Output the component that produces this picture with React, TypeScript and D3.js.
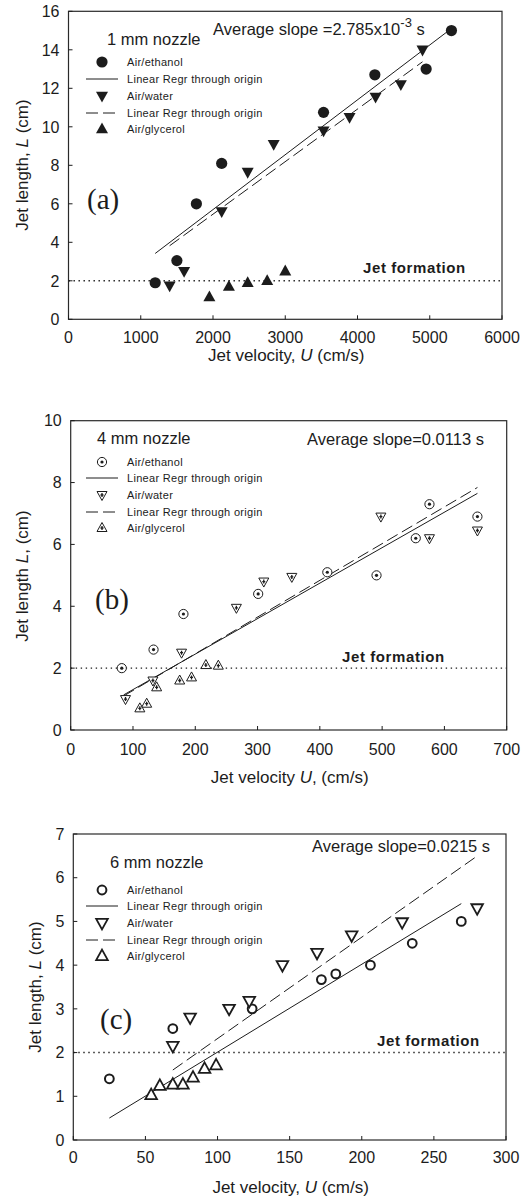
import React from "react";
import * as d3 from "d3";

const FONT = "'Liberation Sans', Arial, sans-serif";
const INK = "#1c1c1c";

const seriesNames = ["Air/ethanol", "Air/water", "Air/glycerol"];
const fitLabel = "Linear Regr through origin";
const formationLabel = "Jet formation";
const formationLevel = 2;

// (a) 1 mm nozzle  -- [U cm/s, L cm]
const aEthanol = [[1200, 1.9], [1500, 3.05], [1770, 6.0], [2120, 8.1], [3530, 10.75], [4240, 12.7], [4950, 13.0], [5300, 15.0]];
const aWater = [[1400, 1.75], [1600, 2.5], [2120, 5.6], [2480, 7.65], [2840, 9.1], [3530, 9.8], [3890, 10.5], [4250, 11.55], [4600, 12.2], [4900, 14.0]];
const aGlycerol = [[1950, 1.15], [2220, 1.7], [2480, 1.9], [2750, 2.0], [3000, 2.5]];
const aFitSlope = [0.00285, 0.00273];
const aFitIntercept = [0, 0];
const aFitRange = [[1200, 5300], [1400, 4900]];
const aXTicks = [0, 1000, 2000, 3000, 4000, 5000, 6000];
const aYTicks = [0, 2, 4, 6, 8, 10, 12, 14, 16];

// (b) 4 mm nozzle
const bEthanol = [[82, 2.0], [133, 2.6], [181, 3.75], [301, 4.4], [412, 5.1], [491, 5.0], [554, 6.2], [576, 7.3], [653, 6.9]];
const bWater = [[88, 1.0], [132, 1.6], [178, 2.5], [266, 3.95], [310, 4.8], [355, 4.95], [498, 6.9], [576, 6.2], [653, 6.45]];
const bGlycerol = [[111, 0.7], [122, 0.85], [138, 1.38], [175, 1.6], [194, 1.7], [217, 2.1], [237, 2.08]];
const bFitSlope = [0.01147, 0.01187];
const bFitIntercept = [0.16, 0.09];
const bFitRange = [[85, 653], [85, 653]];
const bXTicks = [0, 100, 200, 300, 400, 500, 600, 700];
const bYTicks = [0, 2, 4, 6, 8, 10];

// (c) 6 mm nozzle
const cEthanol = [[25, 1.4], [69, 2.55], [124, 3.0], [172, 3.67], [182, 3.8], [206, 4.0], [235, 4.5], [269, 5.0]];
const cWater = [[69, 2.15], [81, 2.8], [108, 3.0], [122, 3.18], [145, 4.0], [169, 4.28], [193, 4.68], [228, 4.98], [280, 5.3]];
const cGlycerol = [[54, 1.03], [60, 1.24], [69, 1.27], [76, 1.27], [83, 1.43], [91, 1.63], [99, 1.71]];
const cFitSlope = [0.0201, 0.0232];
const cFitIntercept = [0, 0];
const cFitRange = [[25, 269], [69, 280]];
const cXTicks = [0, 50, 100, 150, 200, 250, 300];
const cYTicks = [0, 1, 2, 3, 4, 5, 6, 7];

type Pt = number[];
type Variant = "filled" | "dotted" | "open";

function markerPath(kind: string, x: number, y: number, h: number) {
  if (kind === "up") return `M${x},${y - h * 1.1}L${x + h},${y + h * 0.7}L${x - h},${y + h * 0.7}Z`;
  return `M${x},${y + h * 1.1}L${x + h},${y - h * 0.7}L${x - h},${y - h * 0.7}Z`;
}

function Marker({ kind, variant, x, y }: { kind: string; variant: Variant; x: number; y: number }) {
  if (kind === "circle") {
    if (variant === "filled") return <circle cx={x} cy={y} r={5.6} fill={INK} />;
    if (variant === "dotted")
      return (
        <g>
          <circle cx={x} cy={y} r={4.6} fill="#fff" stroke={INK} strokeWidth={1} />
          <circle cx={x} cy={y} r={1.6} fill={INK} />
        </g>
      );
    return <circle cx={x} cy={y} r={4.4} fill="#fff" stroke={INK} strokeWidth={2} />;
  }
  if (variant === "filled") return <path d={markerPath(kind, x, y, 6)} fill={INK} />;
  if (variant === "dotted")
    return (
      <g>
        <path d={markerPath(kind, x, y, 5)} fill="#fff" stroke={INK} strokeWidth={1} />
        <path d={`M${x - 1.5},${y}H${x + 1.5}M${x},${y - 2}V${y + 2}`} stroke={INK} strokeWidth={1.3} />
      </g>
    );
  return <path d={markerPath(kind, x, y, 5.8)} fill="#fff" stroke={INK} strokeWidth={1.8} />;
}

type PanelProps = {
  box: { left: number; right: number; top: number; bottom: number };
  xTicks: number[];
  yTicks: number[];
  ethanol: Pt[];
  water: Pt[];
  glycerol: Pt[];
  fitSlope: number[];
  fitIntercept: number[];
  fitRange: number[][];
  variant: Variant;
  nozzle: string;
  nozzlePos: [number, number];
  slopeText: React.ReactNode;
  slopePos: [number, number];
  letter: string;
  letterPos: [number, number];
  formationPos: [number, number];
  legendRows: number[];
  xTitle: React.ReactNode;
  xTitleY: number;
  yTitle: React.ReactNode;
  yTitlePos: [number, number];
  xTickDy: number;
};

function Panel(p: PanelProps) {
  const { left, right, top, bottom } = p.box;
  const x = d3.scaleLinear().domain(d3.extent(p.xTicks) as [number, number]).range([left, right]);
  const y = d3.scaleLinear().domain(d3.extent(p.yTicks) as [number, number]).range([bottom, top]);
  const fitPath = (i: number) =>
    d3.line<number>()
      .x((u) => x(u))
      .y((u) => y(p.fitIntercept[i] + p.fitSlope[i] * u))(p.fitRange[i]) || "";
  const series: [string, Pt[]][] = [["circle", p.ethanol], ["down", p.water], ["up", p.glycerol]];
  const legendX = 102;
  const textX = 127;
  const tick = 4;
  return (
    <g fontFamily={FONT} fill={INK}>
      <line x1={left} x2={right} y1={y(formationLevel)} y2={y(formationLevel)} stroke={INK} strokeWidth={1.4} strokeDasharray="1.4,3.6" />
      {[0, 1].map((i) => (
        <path key={i} d={fitPath(i)} fill="none" stroke={INK} strokeWidth={1} strokeDasharray={i === 1 ? "12,5" : undefined} />
      ))}
      {series.map(([kind, pts]) =>
        pts.map((d, j) => <Marker key={kind + j} kind={kind} variant={p.variant} x={x(d[0])} y={y(d[1])} />)
      )}
      <rect x={left} y={top} width={right - left} height={bottom - top} fill="none" stroke="#2a2a2a" strokeWidth={1.2} />
      {p.xTicks.map((t) => (
        <g key={"x" + t}>
          <line x1={x(t)} x2={x(t)} y1={bottom} y2={bottom - tick} stroke={INK} />
          <text x={x(t)} y={bottom + p.xTickDy} fontSize={16} textAnchor="middle">{t}</text>
        </g>
      ))}
      {p.yTicks.map((t) => (
        <g key={"y" + t}>
          <line x1={left} x2={left + tick} y1={y(t)} y2={y(t)} stroke={INK} />
          <text x={left - 9} y={y(t)} dy="0.36em" fontSize={16} textAnchor="end">{t}</text>
        </g>
      ))}
      <text x={(left + right) / 2 + 1} y={p.xTitleY} fontSize={17} textAnchor="middle">{p.xTitle}</text>
      <text transform={`translate(${p.yTitlePos[0]},${p.yTitlePos[1]}) rotate(-90)`} dy="0.36em" fontSize={17} textAnchor="middle">{p.yTitle}</text>
      <text x={p.nozzlePos[0]} y={p.nozzlePos[1]} fontSize={16.5}>{p.nozzle}</text>
      <text x={p.slopePos[0]} y={p.slopePos[1]} fontSize={16.5}>{p.slopeText}</text>
      <text x={p.letterPos[0]} y={p.letterPos[1]} fontSize={29} fontFamily="'Liberation Serif', 'Times New Roman', serif">{p.letter}</text>
      <text x={p.formationPos[0]} y={p.formationPos[1]} fontSize={15} fontWeight="bold" letterSpacing={0.6}>{formationLabel}</text>
      {p.legendRows.map((ry, i) => {
        const isFit = i === 1 || i === 3;
        const label = isFit ? fitLabel : seriesNames[i / 2];
        return (
          <g key={"l" + i}>
            {isFit ? (
              <line x1={86} x2={118} y1={ry} y2={ry} stroke={INK} strokeWidth={1} strokeDasharray={i === 3 ? "12,5" : undefined} />
            ) : (
              <Marker kind={series[i / 2][0]} variant={p.variant} x={legendX} y={ry} />
            )}
            <text x={textX} y={ry} dy="0.36em" fontSize={11} letterSpacing={0.3}>{label}</text>
          </g>
        );
      })}
    </g>
  );
}

export default function App() {
  return (
    <svg width={531} height={1200} style={{ position: "absolute", left: 0, top: 0, background: "#fff" }}>
      <rect width={531} height={1200} fill="#fff" />
      <Panel
        box={{ left: 68.5, right: 502, top: 11.3, bottom: 319.3 }}
        xTicks={aXTicks}
        yTicks={aYTicks}
        ethanol={aEthanol}
        water={aWater}
        glycerol={aGlycerol}
        fitSlope={aFitSlope}
        fitIntercept={aFitIntercept}
        fitRange={aFitRange}
        variant="filled"
        nozzle="1 mm nozzle"
        nozzlePos={[107, 45]}
        slopeText={<>
          <tspan>Average slope =2.785x10</tspan>
          <tspan dy={-8} fontSize={13}>-3</tspan>
          <tspan dy={8}> s</tspan>
        </>}
        slopePos={[213, 35]}
        letter="(a)"
        letterPos={[87, 209]}
        formationPos={[363, 273]}
        legendRows={[62, 79, 96, 113, 129]}
        xTitle={<><tspan>Jet velocity, </tspan><tspan fontStyle="italic">U</tspan><tspan> (cm/s)</tspan></>}
        xTitleY={361}
        yTitle={<><tspan>Jet length, </tspan><tspan fontStyle="italic">L</tspan><tspan> (cm)</tspan></>}
        yTitlePos={[22, 165]}
        xTickDy={24}
      />
      <Panel
        box={{ left: 70.7, right: 506.7, top: 420.7, bottom: 730 }}
        xTicks={bXTicks}
        yTicks={bYTicks}
        ethanol={bEthanol}
        water={bWater}
        glycerol={bGlycerol}
        fitSlope={bFitSlope}
        fitIntercept={bFitIntercept}
        fitRange={bFitRange}
        variant="dotted"
        nozzle="4 mm nozzle"
        nozzlePos={[97, 444]}
        slopeText="Average slope=0.0113 s"
        slopePos={[307, 445]}
        letter="(b)"
        letterPos={[95, 609]}
        formationPos={[342, 662]}
        legendRows={[462, 478, 495, 512, 528]}
        xTitle={<><tspan>Jet velocity </tspan><tspan fontStyle="italic">U</tspan><tspan>, (cm/s)</tspan></>}
        xTitleY={783}
        yTitle={<><tspan>Jet length </tspan><tspan fontStyle="italic">L</tspan><tspan>, (cm)</tspan></>}
        yTitlePos={[22, 576]}
        xTickDy={25}
      />
      <Panel
        box={{ left: 73.3, right: 506, top: 834, bottom: 1140 }}
        xTicks={cXTicks}
        yTicks={cYTicks}
        ethanol={cEthanol}
        water={cWater}
        glycerol={cGlycerol}
        fitSlope={cFitSlope}
        fitIntercept={cFitIntercept}
        fitRange={cFitRange}
        variant="open"
        nozzle="6 mm nozzle"
        nozzlePos={[110, 868]}
        slopeText="Average slope=0.0215 s"
        slopePos={[312, 852]}
        letter="(c)"
        letterPos={[100, 1029]}
        formationPos={[377, 1046]}
        legendRows={[890, 906, 923, 940, 956]}
        xTitle={<><tspan>Jet velocity, </tspan><tspan fontStyle="italic">U</tspan><tspan> (cm/s)</tspan></>}
        xTitleY={1193}
        yTitle={<><tspan>Jet length, </tspan><tspan fontStyle="italic">L</tspan><tspan> (cm)</tspan></>}
        yTitlePos={[35, 987]}
        xTickDy={23}
      />
    </svg>
  );
}
